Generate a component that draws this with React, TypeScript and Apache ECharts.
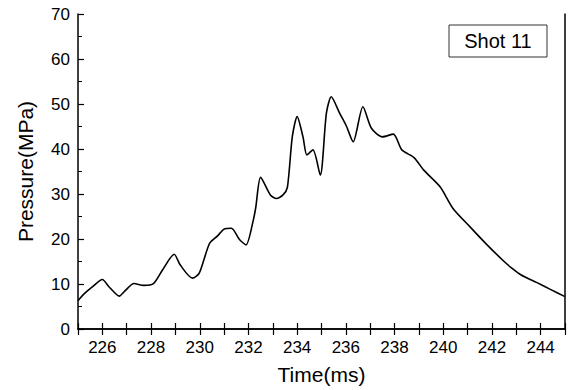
import React, { useEffect, useRef } from "react";
import * as echarts from "echarts";

const times = [
  225.0, 225.25, 225.6, 226.0, 226.27, 226.7, 226.9, 227.3, 227.7, 228.1, 228.47, 228.95,
  229.2, 229.7, 229.98, 230.4, 230.73, 231.0, 231.3, 231.63, 231.9, 232.2, 232.3, 232.5,
  232.9, 233.15, 233.42, 233.6, 233.8, 234.0, 234.24, 234.4, 234.65, 234.95, 235.2, 235.4,
  235.75, 236.03, 236.3, 236.7, 237.05, 237.5, 237.95, 238.3, 238.8, 239.2, 239.87, 240.4,
  241.1, 241.8, 242.5, 242.8, 243.2, 243.85, 244.4, 245.0,
];
const pressures = [
  6.3, 7.8, 9.4, 11.0, 9.4, 7.3, 8.3, 10.1, 9.7, 10.1, 13.1, 16.6,
  14.2, 11.3, 12.4, 19.0, 20.7, 22.2, 22.4, 19.9, 18.7, 24.2, 27.0, 33.7,
  29.8, 29.0, 29.8, 31.5, 42.7, 47.2, 42.7, 38.7, 39.8, 34.2, 47.9, 51.6,
  47.9, 45.0, 41.6, 49.4, 44.6, 42.7, 43.3, 39.8, 38.1, 35.3, 31.6, 26.8,
  22.7, 18.7, 15.0, 13.6, 12.0, 10.3, 8.8, 7.2,
];
const xTickLabels = ["226", "228", "230", "232", "234", "236", "238", "240", "242", "244"];
const legendText = "Shot 11";

export default function App() {
  const ref = useRef<HTMLDivElement>(null);
  useEffect(() => {
    if (!ref.current) return;
    const chart = echarts.init(ref.current, null, { renderer: "svg" });
    const font = "Liberation Sans, Arial, sans-serif";
    const axisLine = { show: true, lineStyle: { color: "#000", width: 1.5 } };
    chart.setOption({
      animation: false,
      backgroundColor: "#fff",
      grid: { left: 78, right: 4, top: 14, bottom: 61 },
      xAxis: [
        {
          type: "value",
          min: 225,
          max: 245,
          interval: 1,
          name: "Time(ms)",
          nameLocation: "middle",
          nameGap: 35,
          nameTextStyle: { fontFamily: font, fontSize: 21, color: "#000" },
          axisLine,
          axisTick: { show: true, inside: true, length: 6, lineStyle: { color: "#000", width: 1.2 } },
          axisLabel: {
            fontFamily: font,
            fontSize: 17,
            color: "#000",
            margin: 10,
            formatter: (v: number) => {
              const s = String(Math.round(v));
              return xTickLabels.includes(s) ? s : "";
            },
          },
          splitLine: { show: false },
        },
        {
          type: "value",
          position: "top",
          min: 225,
          max: 245,
          interval: 1,
          axisLine,
          axisTick: { show: true, inside: true, length: 6, lineStyle: { color: "#000", width: 1.2 } },
          axisLabel: { show: false },
          splitLine: { show: false },
        },
      ],
      yAxis: [
        {
          type: "value",
          min: 0,
          max: 70,
          interval: 10,
          name: "Pressure(MPa)",
          nameLocation: "middle",
          nameGap: 42,
          nameTextStyle: { fontFamily: font, fontSize: 21, color: "#000" },
          axisLine,
          axisTick: { show: true, inside: true, length: 6, lineStyle: { color: "#000", width: 1.2 } },
          minorTick: { show: true, splitNumber: 2, length: 4, lineStyle: { color: "#000", width: 1 } },
          axisLabel: { fontFamily: font, fontSize: 17, color: "#000", margin: 8 },
          splitLine: { show: false },
        },
        {
          type: "value",
          position: "right",
          min: 0,
          max: 70,
          interval: 10,
          axisLine,
          axisTick: { show: false },
          axisLabel: { show: false },
          splitLine: { show: false },
        },
      ],
      series: [
        {
          type: "line",
          data: times.map((t, i) => [t, pressures[i]]),
          showSymbol: false,
          smooth: 0.25,
          lineStyle: { color: "#000", width: 1.6 },
          clip: true,
        },
      ],
      graphic: [
        {
          type: "rect",
          shape: { x: 449, y: 25, width: 98, height: 32 },
          style: { fill: "#fff", stroke: "#333", lineWidth: 1 },
        },
        {
          type: "text",
          x: 498,
          y: 41,
          style: {
            text: legendText,
            fontFamily: font,
            fontSize: 20,
            fill: "#000",
            align: "center",
            verticalAlign: "middle",
          },
        },
      ],
    });
    return () => chart.dispose();
  }, []);
  return (
    <div
      ref={ref}
      style={{ position: "fixed", left: 0, top: 0, width: 569, height: 390, background: "#fff" }}
    />
  );
}
